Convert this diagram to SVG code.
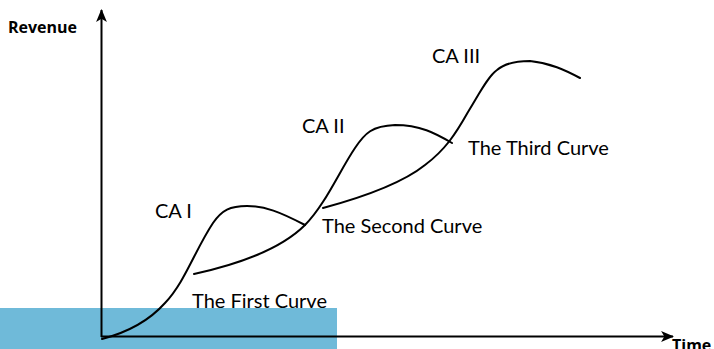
<svg xmlns="http://www.w3.org/2000/svg" width="714" height="349" viewBox="0 0 714 349">
<style>
.t{font-family:Lato,"Open Sans",sans-serif;font-size:20px;fill:#000}
.b{font-family:"Open Sans",Lato,sans-serif;font-size:16px;font-weight:bold;fill:#000}
.c{fill:none;stroke:#000;stroke-width:2;stroke-linecap:round}
.ax{fill:none;stroke:#000;stroke-width:2}
</style>
<defs>
<marker id="ah" viewBox="0 0 12 10" refX="11" refY="5" markerWidth="13" markerHeight="11" orient="auto" markerUnits="userSpaceOnUse">
<path d="M0,0 L12,5 L0,10 L3,5 Z" fill="#000"/>
</marker>
</defs>
<rect x="0" y="308" width="337" height="41" fill="#6fbad9"/>
<g id="axes">
<line class="ax" x1="101.5" y1="337" x2="101.5" y2="10" marker-end="url(#ah)"/>
<line class="ax" x1="101" y1="336.5" x2="673" y2="336.5" marker-end="url(#ah)"/>
</g>
<g id="connectors">
<path id="curve1" class="c" d="M102,339 C125,333 148,322 165,303 C185,282 195,250 213,223 C222,210 230,206 247,206 C265,206 280,212 305,225"/>
<path id="curve2" class="c" d="M194,274 C235,265 280,250 305,225 C325,205 340,170 355,148 C365,133 372,126 395,125 C420,125 435,133 452,143"/>
<path id="curve3" class="c" d="M323,208 C360,198 400,185 425,165 C445,150 455,135 468,112 C478,96 488,76 497,70 C505,63 515,61 530,61 C550,63 565,70 580,78"/>
</g>
<g id="labels">
<text class="b" x="8" y="33">Revenue</text>
<text class="b" x="672" y="351">Time</text>
<text id="ca1" class="t" x="155" y="218">CA I</text>
<text id="ca2" class="t" x="302" y="133">CA II</text>
<text id="ca3" class="t" x="432" y="63">CA III</text>
<text id="first" class="t" x="192" y="308">The First Curve</text>
<text id="second" class="t" x="322" y="233">The Second Curve</text>
<text id="third" class="t" x="468" y="155">The Third Curve</text>
</g>
</svg>
